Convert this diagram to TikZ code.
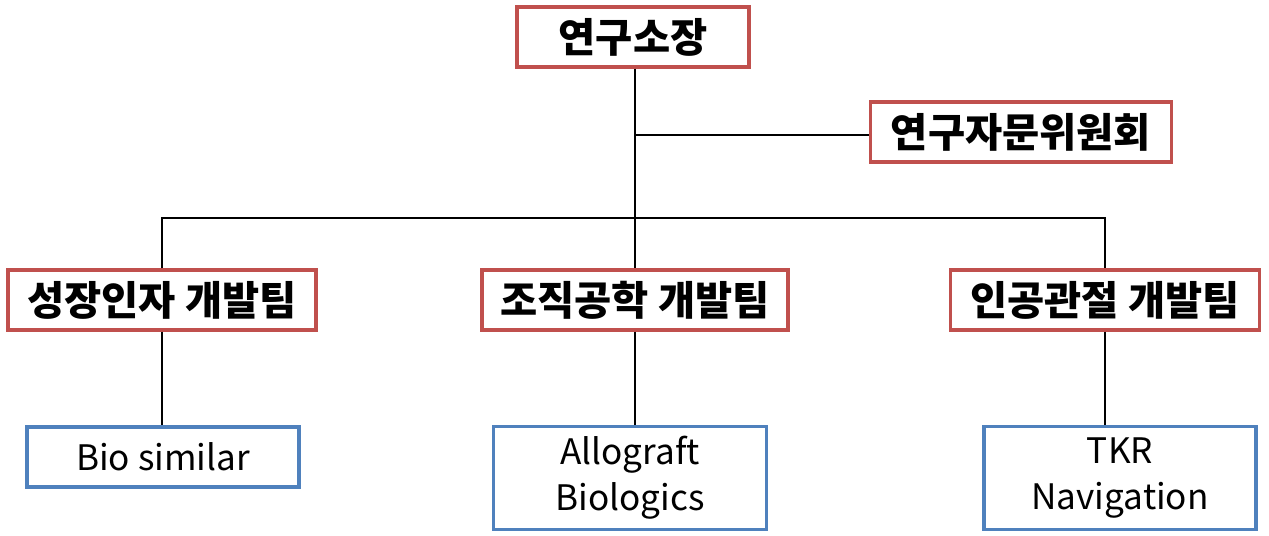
\documentclass[tikz,border=0pt]{standalone}
\usepackage{fontspec}
\setmainfont{Noto Sans CJK KR}
\usepackage{tikz}
\definecolor{boxred}{RGB}{192,80,77}
\definecolor{boxblue}{RGB}{79,129,189}
\tikzset{
  head/.style={draw=boxred, line width=1.8pt, minimum height=1.2cm, inner xsep=4pt, font=\fontsize{23}{26}\selectfont\bfseries},
  leaf/.style={draw=boxblue, line width=1.8pt, align=center, font=\fontsize{20}{26}\selectfont},
  link/.style={line width=1.1pt}
}
\begin{document}
\begin{tikzpicture}[x=0.02cm,y=-0.02cm]
  \useasboundingbox (0,0) rectangle (1269,535);

  \node[head, minimum width=4.64cm] (chief) at (633,37) {연구소장};
  \node[head, minimum width=6.02cm] (board) at (1021,132) {연구자문위원회};

  \node[head, minimum width=6.16cm] (growth) at (162,300) {성장인자 개발팀};
  \node[head, minimum width=6.12cm] (tissue) at (635,300) {조직공학 개발팀};
  \node[head, minimum width=6.18cm] (joint) at (1105,300) {인공관절 개발팀};

  \node[leaf, minimum width=5.44cm, minimum height=1.2cm] (bio) at (163,457) {Bio similar};
  \node[leaf, minimum width=5.46cm, minimum height=2.06cm] (allo) at (630,478) {Allograft\\Biologics};
  \node[leaf, minimum width=5.44cm, minimum height=2.06cm] (tkr) at (1120,478) {TKR\\Navigation};

  \coordinate (hub) at (635,218);
  \coordinate (side) at (635,135);

  \draw[link] (chief.south -| hub) -- (hub);
  \draw[link] (side) -- (board.west |- side);
  \draw[link] (growth.north) -- (growth.north |- hub) -- (joint.north |- hub) -- (joint.north);
  \draw[link] (hub) -- (tissue.north);
  \draw[link] (growth.south) -- (growth.south |- bio.north);
  \draw[link] (tissue.south) -- (tissue.south |- allo.north);
  \draw[link] (joint.south) -- (joint.south |- tkr.north);
\end{tikzpicture}
\end{document}
